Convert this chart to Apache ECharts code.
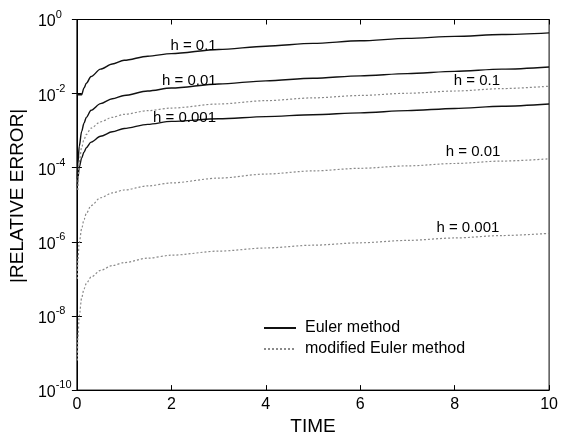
<!DOCTYPE html>
<html>
<head>
<meta charset="utf-8">
<script src="https://cdn.jsdelivr.net/npm/echarts@6/dist/echarts.min.js"></script>
<style>
html,body{margin:0;padding:0;background:#fff;}
#chart{width:561px;height:441px;}
</style>
</head>
<body>
<div id="chart"></div>
<script>
// ---- data ----
const times = [0, 0.01, 0.02, 0.05, 0.1, 0.15, 0.2, 0.3, 0.5, 0.75, 1, 1.5, 2, 3, 4, 5, 6, 7, 8, 9, 10];

const eulerH1   = [9.33e-3, null, null, null, 9.33e-3, 1.413e-2, 1.905e-2, 2.884e-2, 4.571e-2, 6.31e-2, 7.943e-2, 0.1023, 0.1202, 0.1549, 0.1905, 0.2265, 0.2661, 0.309, 0.3508, 0.3936, 0.4365];
const eulerH01  = [null, 5.01e-5, 1.259e-4, 3.80e-4, 9.55e-4, 1.585e-3, 2.29e-3, 3.55e-3, 5.37e-3, 7.24e-3, 8.91e-3, 1.175e-2, 1.413e-2, 1.820e-2, 2.213e-2, 2.60e-2, 3.02e-2, 3.467e-2, 3.981e-2, 4.571e-2, 5.248e-2];
const eulerH001 = [null, 3.16e-5, 5.01e-5, 1.047e-4, 1.82e-4, 2.63e-4, 3.47e-4, 4.90e-4, 7.08e-4, 9.33e-4, 1.148e-3, 1.479e-3, 1.778e-3, 2.089e-3, 2.399e-3, 2.692e-3, 3.02e-3, 3.467e-3, 3.981e-3, 4.571e-3, 5.248e-3];

const modH1   = [null, null, 2.512e-5, 1.413e-4, 3.548e-4, 5.754e-4, 7.943e-4, 1.175e-3, 1.738e-3, 2.291e-3, 2.754e-3, 3.467e-3, 4.074e-3, 5.248e-3, 6.457e-3, 7.674e-3, 8.913e-3, 1.023e-2, 1.175e-2, 1.365e-2, 1.585e-2];
const modH01  = [null, 1.0e-7, 3.162e-7, 9.55e-7, 2.239e-6, 3.981e-6, 5.888e-6, 9.55e-6, 1.549e-5, 2.089e-5, 2.512e-5, 3.236e-5, 3.89e-5, 5.248e-5, 6.761e-5, 8.222e-5, 9.661e-5, 1.122e-4, 1.303e-4, 1.514e-4, 1.738e-4];
const modH001 = [null, 6.31e-10, 2.512e-9, 1.0e-8, 3.02e-8, 5.37e-8, 7.586e-8, 1.122e-7, 1.698e-7, 2.291e-7, 2.754e-7, 3.631e-7, 4.365e-7, 5.623e-7, 6.839e-7, 8.128e-7, 9.441e-7, 1.096e-6, 1.274e-6, 1.479e-6, 1.698e-6];

const xTicks = [0, 2, 4, 6, 8, 10];
const yExponents = [0, -2, -4, -6, -8, -10];

const seriesNames = ['Euler method', 'modified Euler method'];
const curveLabels = [
  {text: 'h = 0.1',   t: 2.47, v: 0.20},
  {text: 'h = 0.01',  t: 2.38, v: 2.24e-2},
  {text: 'h = 0.001', t: 2.28, v: 2.24e-3},
  {text: 'h = 0.1',   t: 8.47, v: 2.24e-2},
  {text: 'h = 0.01',  t: 8.39, v: 2.66e-4},
  {text: 'h = 0.001', t: 8.28, v: 2.33e-6}
];

// ---- build ----
function pairs(vals){ return times.map((t,i)=>[t, vals[i]]).filter(p=>p[1]!==null); }

const FONT = 'Liberation Sans, Arial, Helvetica, sans-serif';
const solid = {color:'#111', width:1.4, type:'solid'};
const dotted = {color:'#8a8a8a', width:1.2, type:[2,2]};

function lineSeries(name, vals, style){
  return {
    name: name, type:'line', data: pairs(vals), showSymbol:false, symbol:'none',
    smooth:0.3, smoothMonotone:'x',
    lineStyle: style, itemStyle:{color: style.color},
    xAxisIndex:0, yAxisIndex:0, z:3, animation:false
  };
}

const series = [
  lineSeries(seriesNames[0], eulerH1, solid),
  lineSeries(seriesNames[0], eulerH01, solid),
  lineSeries(seriesNames[0], eulerH001, solid),
  lineSeries(seriesNames[1], modH1, dotted),
  lineSeries(seriesNames[1], modH01, dotted),
  lineSeries(seriesNames[1], modH001, dotted),
  {
    type:'scatter', symbolSize:1, silent:true, animation:false, z:5,
    itemStyle:{color:'rgba(0,0,0,0)', opacity:1},
    data: curveLabels.map(l=>({value:[l.t, l.v], label:{formatter:l.text}})),
    label:{show:true, position:'inside', color:'#000', fontSize:15, fontFamily:FONT, opacity:1}
  }
];

const sup = {fontSize:11, fontFamily:FONT, color:'#000', verticalAlign:'top', lineHeight:11};
const base = {fontSize:16, fontFamily:FONT, color:'#000', verticalAlign:'bottom', lineHeight:21};

const chart = echarts.init(document.getElementById('chart'), null, {renderer:'canvas'});
chart.setOption({
  animation:false,
  backgroundColor:'#fff',
  grid:{left:71, right:10, top:19.5, bottom:42, show:true, borderColor:'#000', borderWidth:1},
  legend:{
    data: seriesNames, orient:'vertical', left:258, top:315,
    itemWidth:32, itemHeight:12, itemGap:5,
    itemStyle:{opacity:0},
    textStyle:{fontSize:16, fontFamily:FONT, color:'#000', padding:[0,0,0,4]}
  },
  xAxis:[{
    type:'value', min:0, max:10, interval:2,
    name:'TIME', nameLocation:'middle', nameGap:21,
    nameTextStyle:{fontSize:19, fontFamily:FONT, color:'#000'},
    axisLine:{lineStyle:{color:'#000', width:1}},
    axisTick:{inside:true, length:5, lineStyle:{color:'#000'}},
    axisLabel:{fontSize:16, fontFamily:FONT, color:'#000', margin:6,
      formatter: v => xTicks.includes(v) ? String(v) : ''},
    splitLine:{show:false}
  },{
    type:'value', min:0, max:10, interval:2, position:'top',
    axisLine:{lineStyle:{color:'#000'}},
    axisTick:{inside:true, length:5, lineStyle:{color:'#000'}},
    axisLabel:{show:false}, splitLine:{show:false}
  }],
  yAxis:[{
    type:'log', logBase:10, min:1e-10, max:1, interval:2,
    name:'|RELATIVE ERROR|', nameLocation:'middle', nameGap:41,
    nameTextStyle:{fontSize:19, fontFamily:FONT, color:'#000', padding:[0,0,0,18]},
    axisLine:{lineStyle:{color:'#000', width:1}},
    axisTick:{inside:true, length:5, lineStyle:{color:'#000'}},
    axisLabel:{
      margin:39, align:'left',
      formatter: v => { const e = Math.round(Math.log10(v)); return yExponents.includes(e) ? '{b|10}{s|' + e + '}' : ''; },
      rich:{b:base, s:sup}
    },
    splitLine:{show:false}, minorTick:{show:false}
  },{
    type:'log', logBase:10, min:1e-10, max:1, interval:2, position:'right',
    axisLine:{lineStyle:{color:'#000'}},
    axisTick:{inside:true, length:5, lineStyle:{color:'#000'}},
    axisLabel:{show:false}, splitLine:{show:false}
  }],
  series: series
});
</script>
</body>
</html>
